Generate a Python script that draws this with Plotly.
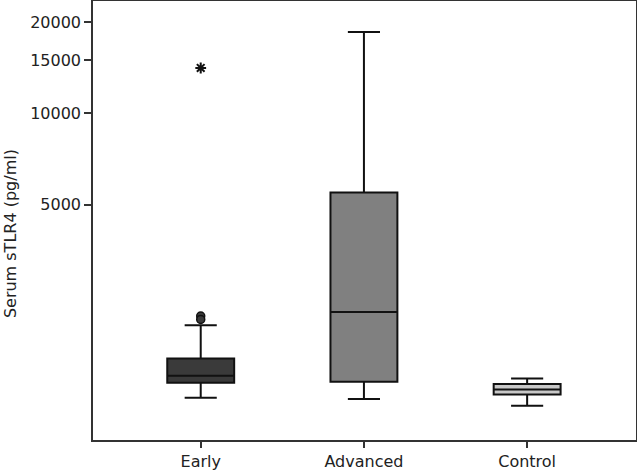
import plotly.graph_objects as go
import math

groups = ["Early", "Advanced", "Control"]
lower_fence = [1154, 1143, 1086]
q1 = [1294, 1303, 1184]
median = [1364, 2213, 1230]
q3 = [1557, 5489, 1281]
upper_fence = [2004, 18540, 1337]
fills = ["#3a3a3a", "#808080", "#c8c8c8"]

outlier_group = ["Early", "Early"]
outlier_values = [2146, 2092]
extreme_group = ["Early"]
extreme_values = [14110]

y_ticks = [5000, 10000, 15000, 20000]
y_tick_text = ["5000", "10000", "15000", "20000"]
y_title = "Serum sTLR4 (pg/ml)"

FONT = "DejaVu Sans"

fig = go.Figure()
for i, g in enumerate(groups):
    fig.add_trace(go.Box(
        x=[g], q1=[q1[i]], median=[median[i]], q3=[q3[i]],
        lowerfence=[lower_fence[i]], upperfence=[upper_fence[i]],
        fillcolor=fills[i], line=dict(color="#111111", width=2),
        width=0.41, whiskerwidth=0.48, boxpoints=False, showlegend=False,
    ))

fig.add_trace(go.Scatter(
    x=outlier_group, y=outlier_values, mode="markers",
    marker=dict(symbol="circle", size=8, color="#3a3a3a",
                line=dict(color="#111111", width=1.5)),
    showlegend=False,
))
fig.add_trace(go.Scatter(
    x=extreme_group, y=extreme_values, mode="markers",
    marker=dict(symbol="asterisk-open", size=9, color="#111111",
                line=dict(color="#111111", width=2)),
    showlegend=False,
))

fig.update_layout(
    width=637, height=471,
    margin=dict(l=93, r=1, t=1, b=31, autoexpand=False),
    plot_bgcolor="white", paper_bgcolor="white",
    font=dict(family=FONT, size=16, color="#222222"),
)
fig.add_annotation(
    text=y_title, xref="paper", yref="paper", x=0, y=0.469,
    xshift=-83, xanchor="center", yanchor="middle", textangle=-90,
    showarrow=False, font=dict(size=16, family=FONT, color="#222222"),
)
fig.update_xaxes(
    categoryorder="array", categoryarray=groups,
    range=[-0.66, 2.667], automargin=False,
    showline=True, mirror=True, linecolor="#333333", linewidth=1.5,
    ticks="outside", ticklen=6, tickcolor="#333333", tickwidth=1.5,
    showgrid=False, tickfont=dict(size=16, family=FONT),
)
fig.update_yaxes(
    type="log", range=[math.log10(838), math.log10(23460)],
    tickvals=y_ticks, ticktext=y_tick_text, automargin=False,
    showline=True, mirror=True, linecolor="#333333", linewidth=1.5,
    ticks="outside", ticklen=7, tickcolor="#333333", tickwidth=1.5,
    showgrid=False, zeroline=False, tickfont=dict(size=16, family=FONT),
)

fig.write_html(
    "out.html",
    config={"displayModeBar": False},
    post_script="document.body.style.margin='0';document.body.style.overflow='hidden';",
)
